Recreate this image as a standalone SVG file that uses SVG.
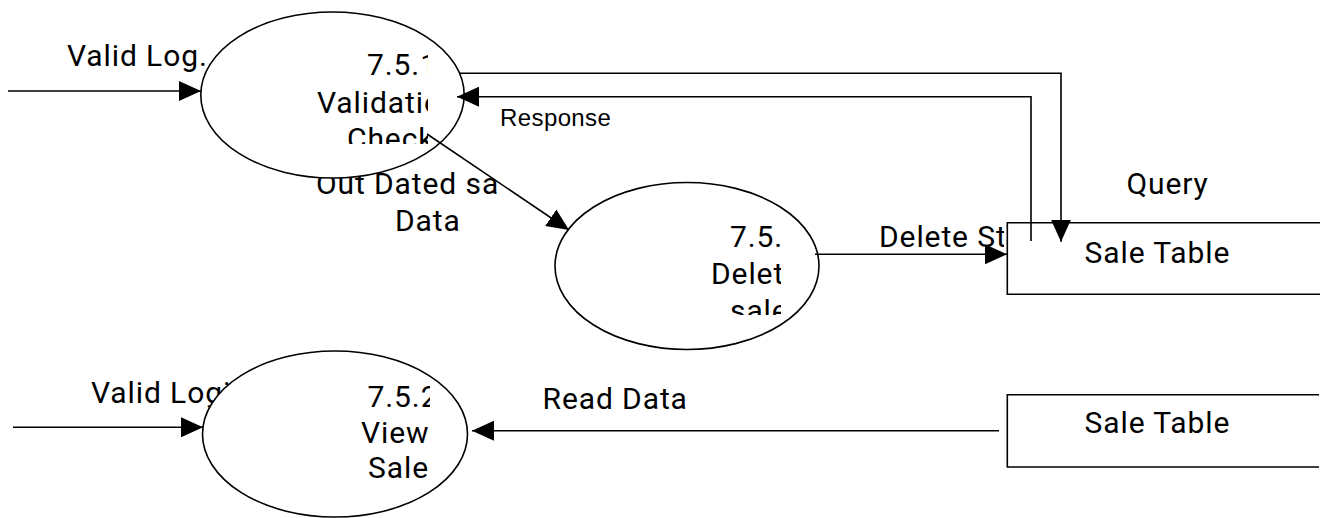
<svg xmlns="http://www.w3.org/2000/svg" width="1326" height="518" viewBox="0 0 1326 518">
<style>
.bg{fill:#ffffff}
.ell{fill:#ffffff;stroke:#000000;stroke-width:1.6}
.ln{fill:none;stroke:#000000;stroke-width:1.6}
.t{font-family:Roboto,"Liberation Sans",sans-serif;font-size:30px;fill:#000000;letter-spacing:0.9px}
.ts{font-family:"Liberation Sans",Arial,sans-serif;font-size:24px;fill:#000000;letter-spacing:0.4px}
</style>
<defs>
<marker id="arr" markerUnits="userSpaceOnUse" markerWidth="22" markerHeight="20" refX="22" refY="10" orient="auto">
<path d="M0,0 L22,10 L0,20 Z" fill="#000000"/>
</marker>
<clipPath id="c1"><rect x="200" y="20" width="228" height="124"/></clipPath>
<clipPath id="c2"><rect x="300" y="150" width="199" height="100"/></clipPath>
<clipPath id="c3"><rect x="560" y="200" width="221" height="115"/></clipPath>
<clipPath id="c4"><rect x="860" y="210" width="144" height="50"/></clipPath>
<clipPath id="c5"><rect x="200" y="370" width="230" height="140"/></clipPath>
</defs>
<rect class="bg" x="0" y="0" width="1326" height="518"/>

<g id="labels">
<text class="t" x="67" y="65.5">Valid Log.</text>
<text class="ts" x="500" y="126">Response</text>
<g clip-path="url(#c2)">
<text class="t" x="316" y="193.5">Out Dated sale</text>
</g>
<text class="t" x="395" y="230.5">Data</text>
<text class="t" x="1126.5" y="193.5">Query</text>
<g clip-path="url(#c4)">
<text class="t" x="879" y="246.5">Delete St</text>
</g>
<text class="t" x="91" y="402.5">Valid Login</text>
<text class="t" x="542.5" y="409">Read Data</text>
</g>

<g id="p751">
<ellipse class="ell" cx="332.5" cy="95" rx="131.7" ry="83"/>
<g clip-path="url(#c1)">
<text class="t" x="367" y="75">7.5.1</text>
<text class="t" x="317" y="112.5">Validation</text>
<text class="t" x="347" y="149">Check</text>
</g>
</g>

<g id="p75x">
<ellipse class="ell" cx="687" cy="266" rx="132" ry="83.5"/>
<g clip-path="url(#c3)">
<text class="t" x="730" y="247.3">7.5.</text>
<text class="t" x="711" y="284">Delete</text>
<text class="t" x="730" y="320.5">sale</text>
</g>
</g>

<g id="p752">
<ellipse class="ell" cx="335" cy="434" rx="132.5" ry="83"/>
<g clip-path="url(#c5)">
<text class="t" x="367.5" y="406.7">7.5.2</text>
<text class="t" x="361" y="443.3">View</text>
<text class="t" x="368" y="478.3">Sale</text>
</g>
</g>

<g id="store1">
<path class="ln" d="M1320,222.7 H1007.3 V294.3 H1320"/>
<text class="t" x="1084.5" y="263.3">Sale Table</text>
</g>

<g id="store2">
<path class="ln" d="M1319,394.7 H1007.3 V467 H1319"/>
<text class="t" x="1084.5" y="433.3">Sale Table</text>
</g>

<g id="connectors">
<path class="ln" d="M8,91 H201" marker-end="url(#arr)"/>
<path class="ln" d="M460,73.3 H1061 V241.7" marker-end="url(#arr)"/>
<path class="ln" d="M1031,241 V96.7 H457" marker-end="url(#arr)"/>
<path class="ln" d="M427,134 L569,230" marker-end="url(#arr)"/>
<path class="ln" d="M815,254.3 H1007" marker-end="url(#arr)"/>
<path class="ln" d="M13,427.3 H203" marker-end="url(#arr)"/>
<path class="ln" d="M999,430.7 H472" marker-end="url(#arr)"/>
</g>
</svg>
